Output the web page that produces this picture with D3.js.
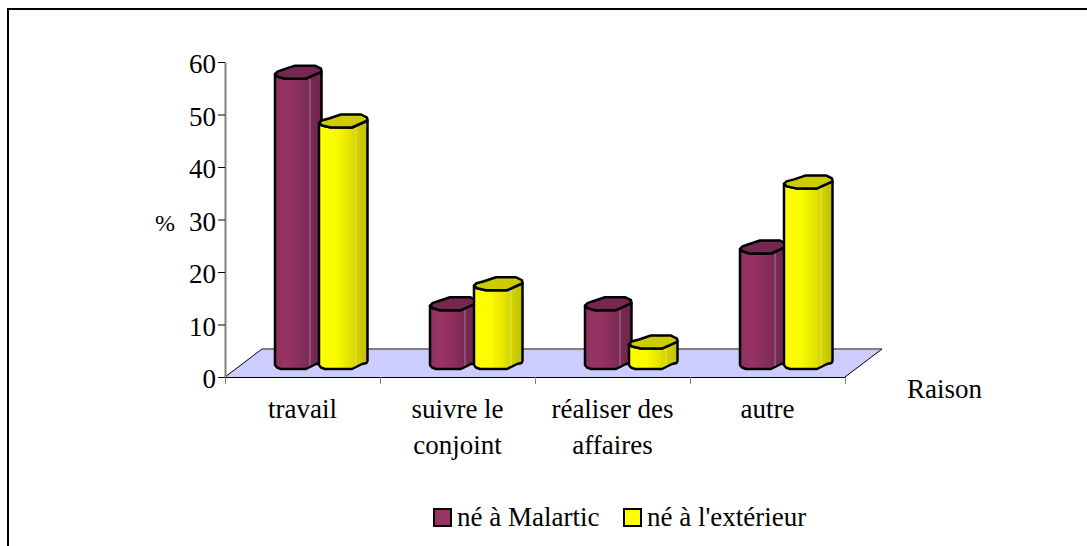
<!DOCTYPE html>
<html>
<head>
<meta charset="utf-8">
<script src="https://cdn.jsdelivr.net/npm/d3@7"></script>
<style>
body { margin: 0; background: #fff; }
svg { display: block; }
text { font-family: "Liberation Serif", serif; fill: #000; }
</style>
</head>
<body>
<svg width="1087" height="546"></svg>
<script>
// values
var categories = [['travail'], ['suivre le', 'conjoint'], ['réaliser des', 'affaires'], ['autre']];
var seriesNames = ['né à Malartic', "né à l'extérieur"];
var malartic = [55.3, 11.2, 11.2, 22];
var exterieur = [46, 15, 3.9, 34.4];
var yTicks = [0, 10, 20, 30, 40, 50, 60];

var svg = d3.select('svg');

// frame, only top and left are inside the picture
svg.append('path')
    .attr('d', 'M8,546V9H1087')
    .attr('fill', 'none')
    .attr('stroke', '#000')
    .attr('stroke-width', 2);

var plot = {l: 225, r: 845, t: 62, b: 377};
var depth = {x: 37, y: -28};
// bars stand in the middle of the floor depth
var barShift = {x: 0, y: -8};

var x = d3.scaleBand().domain(d3.range(categories.length)).range([plot.l, plot.r]);
var y = d3.scaleLinear().domain([0, 60]).range([plot.b, plot.t]);
var inner = d3.scaleBand().domain([0, 1]).range([50, 142]);

// floor
svg.append('path')
    .attr('d', d3.line()([
        [plot.l, plot.b],
        [plot.l + depth.x, plot.b + depth.y],
        [plot.r + depth.x, plot.b + depth.y],
        [plot.r, plot.b]
    ]) + 'Z')
    .attr('fill', '#ccccff')
    .attr('stroke', 'none');
svg.append('path')
    .attr('d', d3.line()([[plot.l + depth.x, plot.b + depth.y], [plot.r + depth.x, plot.b + depth.y]]))
    .attr('stroke', '#808080')
    .attr('stroke-width', 2);
svg.append('path')
    .attr('d', d3.line()([[plot.l, plot.b], [plot.l + depth.x, plot.b + depth.y]]))
    .attr('stroke', '#000')
    .attr('stroke-width', 1);
svg.append('path')
    .attr('d', d3.line()([[plot.r, plot.b], [plot.r + depth.x, plot.b + depth.y]]))
    .attr('stroke', '#000')
    .attr('stroke-width', 1);

// gradients for the bar sides
var defs = svg.append('defs');
function addGradient(id, stops) {
    var g = defs.append('linearGradient').attr('id', id);
    stops.forEach(function(s) {
        g.append('stop').attr('offset', s[0]).attr('stop-color', s[1]);
    });
}
addGradient('gradMal', [[0, '#8f3060'], [0.2, '#993366'], [0.45, '#8f305f'], [0.75, '#7a2a55'], [1, '#6e264c']]);
addGradient('gradExt', [[0, '#ffff00'], [0.35, '#fbfb00'], [0.6, '#e6e600'], [0.85, '#cccc00'], [1, '#c0c000']]);

var series = [
    {values: malartic, grad: 'url(#gradMal)', top: '#752750', swatch: '#993366', left: 0},
    {values: exterieur, grad: 'url(#gradExt)', top: '#cccc00', swatch: '#ffff00', left: -2}
];

series.forEach(function(s, si) {
    var w = inner.bandwidth();
    var l = s.left;
    var bars = svg.append('g').selectAll('g')
        .data(s.values)
        .enter()
        .append('g')
        .attr('transform', function(d, i) {
            return 'translate(' + (x(i) + inner(si) + barShift.x) + ',0)';
        });

    bars.each(function(d) {
        var g = d3.select(this);
        var t = y(d) + barShift.y;
        var b = y(0) + barShift.y;
        var side = [[l, t - 4.5], [l, b - 4], [l + 2, b - 1.5], [l + 6, b], [31, b], [37, b - 3], [41, b - 5], [w - 0.5, b - 6], [w + 0.5, b - 8],
            [w + 0.5, t - 7], [41, t - 4.5], [31, t], [10, t], [l + 3, t - 2]];
        var top = [[l, t - 4.5], [l + 2.5, t - 7], [8, t - 9], [20, t - 13], [40, t - 13], [w, t - 10], [w + 0.5, t - 7], [41, t - 4.5], [31, t], [10, t], [l + 3, t - 2]];
        g.append('path')
            .attr('d', d3.line()(side) + 'Z')
            .attr('fill', s.grad)
            .attr('stroke', '#000')
            .attr('stroke-width', 2.5)
            .attr('stroke-linejoin', 'round');
        // highlight line on the side
        g.append('line')
            .attr('x1', 35).attr('x2', 35)
            .attr('y1', t).attr('y2', b - 3)
            .attr('stroke', '#fff')
            .attr('stroke-opacity', 0.35);
        g.append('path')
            .attr('d', d3.line()(top) + 'Z')
            .attr('fill', s.top)
            .attr('stroke', '#000')
            .attr('stroke-width', 2.5)
            .attr('stroke-linejoin', 'round');
    });
});

// axes
var yAxis = svg.append('g')
    .attr('transform', 'translate(' + plot.l + ',0)')
    .call(d3.axisLeft(y).tickValues(yTicks).tickSize(7).tickSizeOuter(0).tickPadding(2));
yAxis.select('.domain').attr('stroke', '#808080').attr('stroke-width', 2);
yAxis.selectAll('.tick line').attr('stroke', '#000');
yAxis.selectAll('text')
    .attr('dy', '0.4em')
    .style('font-family', '"Liberation Serif", serif')
    .style('font-size', '27px');

var xTicksAt = d3.scaleLinear().domain([0, categories.length]).range([plot.l, plot.r]);
var xAxis = svg.append('g')
    .attr('transform', 'translate(0,' + plot.b + ')')
    .call(d3.axisBottom(xTicksAt).ticks(categories.length).tickSize(7).tickSizeOuter(0).tickFormat(''));
xAxis.select('.domain').attr('stroke', '#000').attr('stroke-width', 1);
xAxis.selectAll('.tick line').attr('stroke', '#808080');

// category labels
svg.append('g').selectAll('text')
    .data(categories)
    .enter()
    .append('text')
    .attr('text-anchor', 'middle')
    .style('font-size', '27px')
    .each(function(d, i) {
        var t = d3.select(this);
        d.forEach(function(line, j) {
            t.append('tspan')
                .attr('x', x(i) + x.bandwidth() / 2)
                .attr('y', 418 + j * 36)
                .text(line);
        });
    });

// axis titles
svg.append('text').attr('x', 155).attr('y', 231).style('font-size', '24px').text('%');
svg.append('text').attr('x', 907).attr('y', 398).style('font-size', '27px').text('Raison');

// legend
var legendX = [434, 624];
var legend = svg.append('g').selectAll('g')
    .data(seriesNames)
    .enter()
    .append('g')
    .attr('transform', function(d, i) { return 'translate(' + legendX[i] + ',509)'; });
legend.append('rect')
    .attr('width', 17).attr('height', 17)
    .attr('fill', function(d, i) { return series[i].swatch; })
    .attr('stroke', '#000')
    .attr('stroke-width', 2);
legend.append('text')
    .attr('x', 23).attr('y', 17)
    .style('font-size', '27px')
    .text(function(d) { return d; });
</script>
</body>
</html>
